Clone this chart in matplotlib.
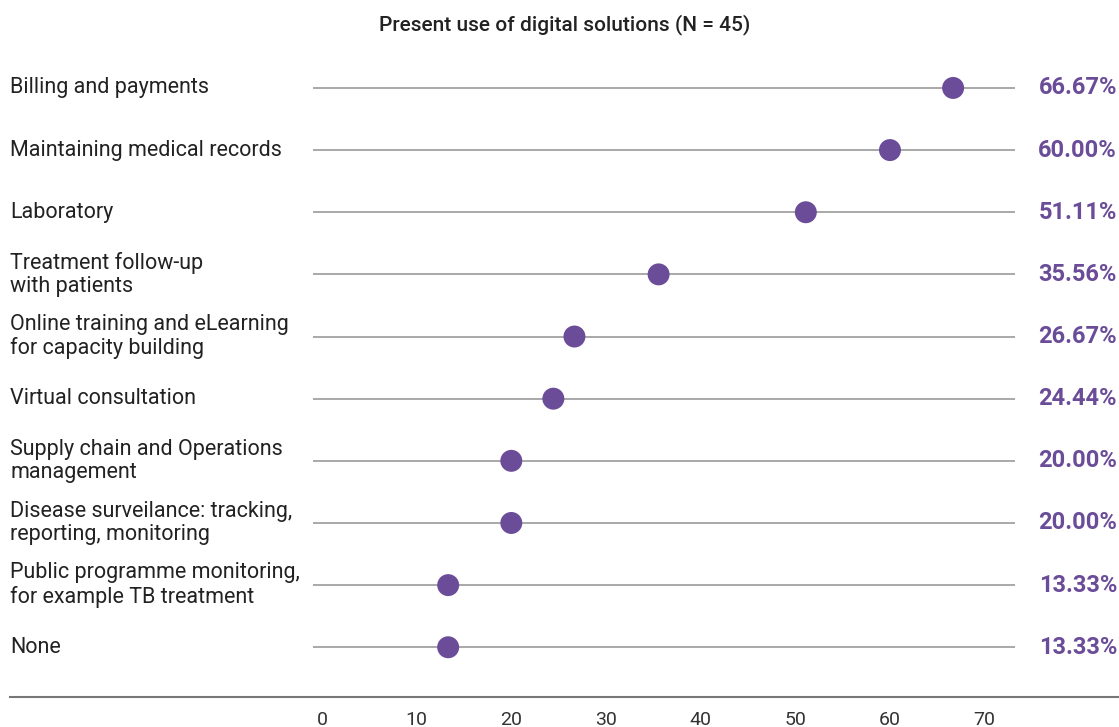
import matplotlib.pyplot as plt
from matplotlib.lines import Line2D

plt.rcParams['font.family'] = ['Roboto', 'DejaVu Sans']

categories = [
    "Billing and payments",
    "Maintaining medical records",
    "Laboratory",
    "Treatment follow-up\nwith patients",
    "Online training and eLearning\nfor capacity building",
    "Virtual consultation",
    "Supply chain and Operations\nmanagement",
    "Disease surveilance: tracking,\nreporting, monitoring",
    "Public programme monitoring,\nfor example TB treatment",
    "None",
]
values = [66.67, 60.00, 51.11, 35.56, 26.67, 24.44, 20.00, 20.00, 13.33, 13.33]
xticks = [0, 10, 20, 30, 40, 50, 60, 70]
title = "Present use of digital solutions (N = 45)"

purple = "#6a4c98"

fig = plt.figure(figsize=(11.19, 7.27), dpi=100)
ax = fig.add_axes([0.2797, 0.0413, 0.6273, 0.8762])

ypos = list(range(len(categories)))
for y in ypos:
    ax.axhline(y, color="#9a9a9a", lw=1.2, zorder=1)
ax.scatter(values, ypos, s=250, color=purple, zorder=3, edgecolors="none")

ax.set_xlim(-0.95, 73.2)
ax.set_ylim(9.8, -0.45)
ax.set_yticks([])
ax.set_xticks(xticks)
ax.tick_params(axis="x", length=0, pad=10, labelsize=14, labelcolor="#333333")
for s in ax.spines.values():
    s.set_visible(False)

for y, cat, v in zip(ypos, categories, values):
    ax.annotate(cat, xy=(10 / 1119, y), xycoords=("figure fraction", "data"),
                ha="left", va="center", fontsize=15.5, color="#222222",
                linespacing=1.15)
    ax.annotate(f"{v:.2f}%", xy=(1117 / 1119, y), xycoords=("figure fraction", "data"),
                ha="right", va="center", fontsize=17, fontweight="bold",
                color=purple)

# bottom rule spanning whole width
fig.add_artist(Line2D([10 / 1119, 1.0], [1 - 697 / 727] * 2,
                      color="#777777", lw=1.5, transform=fig.transFigure))

fig.text(565 / 1119, 1 - 25 / 727, title, ha="center", va="center",
         fontsize=15, fontweight="medium", color="#222222")

fig.savefig("out.png", dpi=100)
